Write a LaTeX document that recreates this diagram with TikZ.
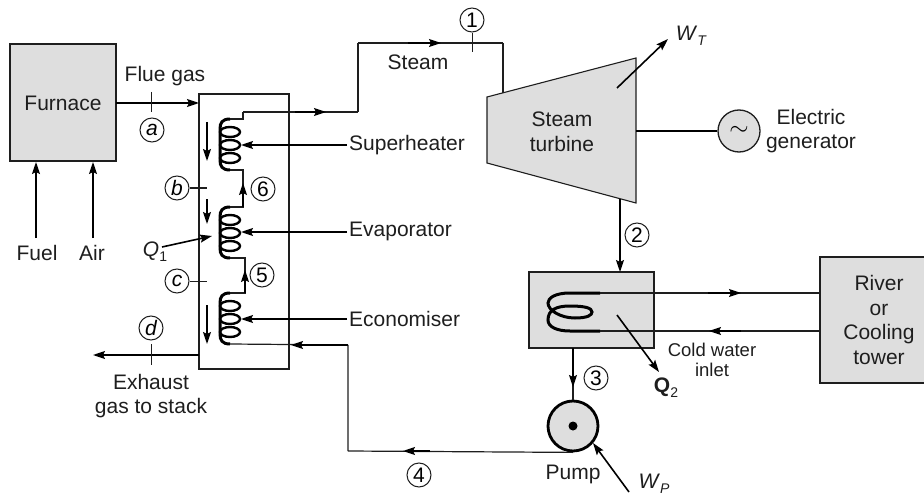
\documentclass[tikz,border=0pt]{standalone}
\usepackage{fontspec}
\setmainfont{Liberation Sans}
\usepackage{pgf,tikz}
\usetikzlibrary{shapes, calc, arrows.meta, math}

\definecolor{unitgray}{HTML}{DEDEDE}
\definecolor{inkline}{HTML}{1E1E1E}

\tikzset{
  unit/.style={draw=inkline, fill=unitgray, line width=1.1pt},
  pipe/.style={draw=inkline, line width=1.2pt},
  flow/.style={draw=black, line width=1.6pt, ->},
  coilwire/.style={draw=black, line width=3pt},
  tick/.style={draw=inkline, line width=1pt},
  tag/.style={circle, draw=inkline, line width=1pt, minimum size=24pt, inner sep=0pt, font=\fontsize{21}{21}\selectfont},
  lettertag/.style={tag, font=\fontsize{21}{21}\selectfont\itshape},
  lbl/.style={inner sep=0pt, align=center, text=inkline, font=\fontsize{21}{24.5}\selectfont},
  point/.style={inner sep=0pt, outer sep=0pt, minimum size=0pt},
}
\newcommand{\subtxt}[1]{\raisebox{-5pt}{\fontsize{14}{14}\selectfont #1}}

\begin{document}
\begin{tikzpicture}[x=1pt, y=-1pt, >={Stealth[length=12pt,width=8pt,inset=2pt]}]

\useasboundingbox (0,0) rectangle (924,500);

\tikzmath{
			\coilx = 230; \stubx = 243;
         }

% main units
\filldraw[unit] (10,44) rectangle (116,161);
\node[lbl] (furnace) at (63,103) {Furnace};

\draw[inkline, line width=1.1pt] (199,94) rectangle (289,369);

\filldraw[unit] (487,97) -- (636,58) -- (636,203) -- (487,163) -- cycle;
\node[lbl] (turbine) at (562,132) {Steam\\turbine};

\filldraw[unit] (529,272) rectangle (654,348);

\filldraw[unit] (820,257) rectangle (926,383);
\node[lbl] (river) at (879,320) {River\\or\\Cooling\\tower};

\node[circle, draw=inkline, fill=unitgray, line width=1.3pt, minimum size=42pt, inner sep=0pt, font=\fontsize{40}{40}\selectfont] (gen) at (739,131) {$\sim$};
\node[circle, draw=black, fill=unitgray, line width=2.8pt, minimum size=50pt, inner sep=0pt] (pump) at (573,426) {};
\fill (pump.center) circle (4.5);

% the three coils
\foreach \yc/\name in {119/sup, 207/eva, 293/eco}{
  \coordinate (\name top) at (\coilx,\yc);
  \coordinate (\name bot) at (\coilx,\yc+51);
  \draw[coilwire] (\name top) .. controls (222,\yc) and (220,\yc+4) .. (220,\yc+10) -- (220,\yc+41) .. controls (220,\yc+47) and (222,\yc+51) .. (\name bot);
  \foreach \dy in {13,26,39}
    \draw[coilwire, line width=2.4pt] (\coilx,\yc+\dy) ellipse (10 and 5);
}

% steam circuit
\node[point] (steamA) at (\stubx,112) {};
\node[point] (steamB) at (358,112) {};
\node[point] (steamC) at (358,43) {};
\node[point] (steamD) at (503,43) {};
\node[point] (steamE) at (503,93) {};
\draw[pipe] (suptop) -- (\stubx,119) -- (steamA) -- (steamB) -- (steamC) -- (steamD) -- (steamE);
\draw[flow] (295,112) -- (326,112);
\draw[flow] (408,43) -- (441,43);

\draw[pipe] (supbot) -- (\stubx,170) -- (\stubx,207) -- (evatop);
\draw[flow] (\stubx,207) -- (\stubx,183);
\draw[pipe] (evabot) -- (245,258) -- (245,293) -- (ecotop);
\draw[flow] (245,293) -- (245,270);

% feed water
\node[point] (feedA) at (348,451) {};
\node[point] (feedB) at (348,345) {};
\draw[pipe] (pump.south) -- (feedA) -- (feedB) -- (ecobot);
\draw[flow] (430,451) -- (403,451);
\draw[flow] (348,345) -- (291,345);

% gas side
\draw[flow] (116,103) -- (199,103);
\draw[flow] (199,355) -- (93,355);
\draw[flow] (36,238) -- (36,162);
\draw[flow] (93,238) -- (93,162);
\draw[flow] (207,122) -- (207,161);
\draw[flow] (207,199) -- (207,224);
\draw[flow] (207,305) -- (207,344);
\draw[flow] (162,247) -- (212,236);

\draw[tick] (151,92) -- (151,112);
\draw[tick] (151,344) -- (151,365);
\draw[tick] (472,33) -- (472,52);
\draw[tick] (190,188) -- (207,188);
\draw[tick] (190,281) -- (207,281);

% heat exchanger feeds
\draw[flow] (347,145) -- (241,145);
\draw[flow] (347,232) -- (241,232);
\draw[flow] (347,319) -- (241,319);

% turbine and condenser
\draw[flow] (617,88) -- (668,39);
\draw[black, line width=2.6pt] (636,131) -- (gen);
\draw[flow] (620,199) -- (620,272);

\draw[coilwire] (600,293) -- (570,293) .. controls (555,293) and (548,298) .. (548,303) .. controls (548,310) and (560,318) .. (575,318) .. controls (588,318) and (592,315) .. (592,312) .. controls (592,308) and (585,306) .. (570,306) .. controls (556,306) and (548,310) .. (548,320) .. controls (548,327) and (557,331) .. (570,331) -- (600,331);
\draw[pipe] (600,293) -- (820,293);
\draw[pipe] (820,331) -- (600,331);
\draw[flow] (708,293) -- (741,293);
\draw[flow] (741,331) -- (709,331);
\draw[flow] (617,315) -- (659,372);

\draw[pipe] (573,348) -- (pump);
\draw[flow] (573,348) -- (573,387);
\draw[flow] (629,492) -- (593,443);

% labels
\node[lbl] (fluegas) at (165,76) {Flue gas};
\node[lbl] (steam) at (418,62) {Steam};
\node[lbl] (fuel) at (37,253) {Fuel};
\node[lbl] (air) at (92,253) {Air};
\node[lbl, anchor=west] (superheater) at (349,145) {Superheater};
\node[lbl, anchor=west] (evaporator) at (349,231) {Evaporator};
\node[lbl, anchor=west] (economiser) at (349,319) {Economiser};
\node[lbl] (exhaust) at (151,396) {Exhaust\\gas to stack};
\node[lbl] (electric) at (811,131) {Electric\\generator};
\node[lbl] (pumplbl) at (573,474) {Pump};
\node[lbl, font=\fontsize{18.5}{20}\selectfont] (coldwater) at (712,360) {Cold water\\inlet};
\node[lbl] (q1) at (155,252) {\textit{Q}\subtxt{1}};
\node[lbl] (q2) at (666,388) {\textbf{Q}\subtxt{2}};
\node[lbl] (wt) at (691,36) {\textit{W}\subtxt{\itshape T}};
\node[lbl] (wp) at (654,484) {\textit{W}\subtxt{\itshape P}};

\node[tag] (t1) at (472,20) {1};
\node[tag] (t2) at (637,235) {2};
\node[tag] (t3) at (596,378) {3};
\node[tag] (t4) at (419,475) {4};
\node[tag] (t5) at (262,275) {5};
\node[tag] (t6) at (263,189) {6};
\node[lettertag] (ta) at (152,130) {a};
\node[lettertag] (tb) at (177,188) {b};
\node[lettertag] (tc) at (177,281) {c};
\node[lettertag] (td) at (151,328) {d};

\end{tikzpicture}
\end{document}
